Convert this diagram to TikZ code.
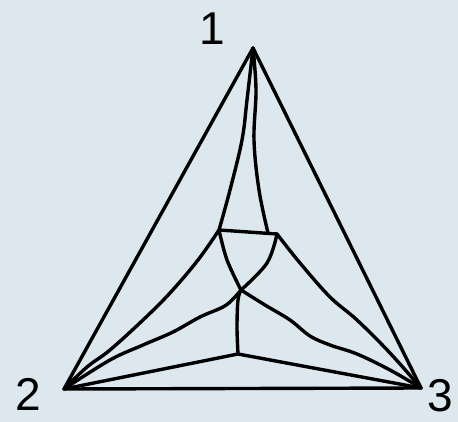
\documentclass[tikz,border=0pt]{standalone}
\usepackage{fontspec}
\setmainfont{Liberation Sans}
\definecolor{paper}{RGB}{221,232,238}
\tikzset{
  ink/.style={line width=3.4pt, line cap=round, line join=round, black},
  lbl/.style={font=\fontsize{46}{46}\selectfont, inner sep=0pt}
}
\begin{document}
\begin{tikzpicture}[x=1pt,y=-1pt]
\useasboundingbox (0,0) rectangle (458,422);
\fill[paper] (0,0) rectangle (458,422);
% vertices and inner points
\coordinate (V1) at (253,48);
\coordinate (V2) at (64,389);
\coordinate (V3) at (421,388);
\coordinate (A) at (219,230);
\coordinate (B) at (277,234);
\coordinate (Bm) at (268,233);
\coordinate (C) at (241,290);
\coordinate (D) at (238,354);
% outer triangle
\draw[ink] (V1) -- (V2) -- (V3) -- cycle;
% curves from vertex 1
\draw[ink] plot[smooth, tension=0.6] coordinates {(V1) (247,100) (242,140) (230,190) (A)};
\draw[ink] plot[smooth, tension=0.6] coordinates {(V1) (256,90) (254,140) (259,190) (Bm)};
% inner top edge
\draw[ink] (A) -- (B);
% crossing curves
\draw[ink] plot[smooth, tension=0.6] coordinates {(A) (227,260) (C)};
\draw[ink] plot[smooth, tension=0.6] coordinates {(B) (267,263) (C)};
\draw[ink] plot[smooth, tension=0.6] coordinates {(C) (238,300) (237,327) (D)};
% curves to vertex 2
\draw[ink] plot[smooth, tension=0.6] coordinates {(A) (198,260) (170,293) (143,320) (110,350) (87,367) (V2)};
\draw[ink] plot[smooth, tension=0.6] coordinates {(C) (233,299) (223,307) (200,317) (173,332) (143,345) (110,360) (V2)};
\draw[ink] (D) -- (V2);
% curves to vertex 3
\draw[ink] plot[smooth, tension=0.6] coordinates {(B) (300,263) (330,297) (357,320) (390,353) (V3)};
\draw[ink] plot[smooth, tension=0.6] coordinates {(C) (265,305) (290,320) (310,336) (330,345) (357,354) (390,370) (V3)};
\draw[ink] (D) -- (V3);
% labels
\node[lbl] (l1) at (212,29) {1};
\node[lbl] (l2) at (28,394) {2};
\node[lbl] (l3) at (440,396) {3};
\end{tikzpicture}
\end{document}
